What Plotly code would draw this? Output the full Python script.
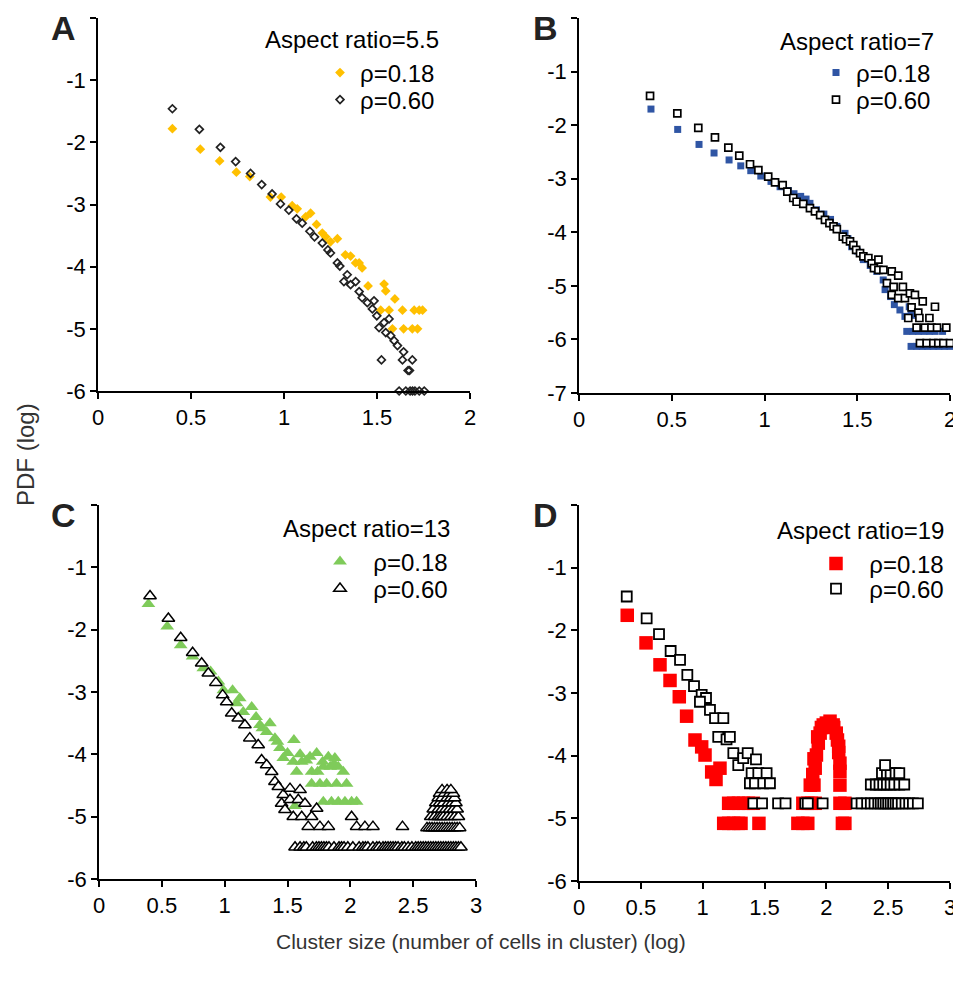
import plotly.graph_objects as go

# The page body adds an 8px margin, so the figure is drawn 8px in from the window corner.
OFF = 8
W, H = 961 - OFF, 986 - OFF

# ---------------- Panel A (aspect ratio 5.5) ----------------
a_r018_x = [0.40, 0.55, 0.654, 0.744, 0.816, 0.927, 0.985, 1.044, 1.071, 1.116, 1.143, 1.175, 1.206, 1.224,
            1.25, 1.287, 1.33, 1.358, 1.385, 1.404, 1.42, 1.452, 1.538, 1.547, 1.596, 1.52, 1.565, 1.637,
            1.70, 1.727, 1.745, 1.583, 1.643, 1.69, 1.718]
a_r018_y = [-1.78, -2.11, -2.30, -2.48, -2.55, -2.88, -2.88, -3.02, -3.07, -3.20, -3.14, -3.32, -3.46, -3.52,
            -3.60, -3.55, -3.81, -3.83, -3.94, -3.94, -4.02, -4.31, -4.28, -4.39, -4.52, -4.70, -4.70, -4.70,
            -4.70, -4.70, -4.70, -5.0, -5.0, -5.0, -5.0]
a_r060_x = [0.40, 0.545, 0.658, 0.74, 0.82, 0.88, 0.936, 0.981, 1.026, 1.067, 1.098, 1.139, 1.164, 1.206,
            1.236, 1.25, 1.287, 1.30, 1.34, 1.322, 1.358, 1.385, 1.404, 1.42, 1.448, 1.484, 1.475, 1.499,
            1.511, 1.538, 1.565, 1.547, 1.574, 1.592, 1.61, 1.643, 1.637, 1.69, 1.524, 1.667, 1.675,
            1.619, 1.655, 1.678, 1.691, 1.704, 1.727, 1.754]
a_r060_y = [-1.46, -1.79, -2.08, -2.31, -2.50, -2.68, -2.83, -2.99, -3.09, -3.23, -3.30, -3.43, -3.52, -3.62,
            -3.73, -3.78, -3.94, -3.99, -4.13, -4.24, -4.29, -4.24, -4.40, -4.50, -4.58, -4.55, -4.68, -4.79,
            -4.98, -4.90, -4.84, -5.06, -5.11, -5.19, -5.27, -5.37, -5.50, -5.50, -5.50, -5.67, -5.67,
            -6.0, -6.0, -6.0, -6.0, -6.0, -6.0, -6.0]

# ---------------- Panel B (aspect ratio 7) ----------------
b_r018_x = [0.388, 0.532, 0.647, 0.728, 0.809, 0.872, 0.926, 0.98, 1.035, 1.084, 1.128, 1.159, 1.195, 1.224,
            1.245, 1.28, 1.32, 1.356, 1.39, 1.434, 1.45, 1.47, 1.50, 1.533, 1.57, 1.605, 1.64, 1.65, 1.68,
            1.70, 1.73, 1.757, 1.78, 1.79, 1.81,
            1.767, 1.80, 1.83, 1.86, 1.89, 1.92, 1.96,
            1.79, 1.82, 1.85, 1.88, 1.91, 1.94, 1.97, 2.0]
b_r018_y = [-1.70, -2.08, -2.36, -2.52, -2.65, -2.76, -2.85, -2.95, -3.05, -3.15, -3.22, -3.28, -3.33, -3.38,
            -3.46, -3.58, -3.66, -3.76, -3.89, -4.02, -4.12, -4.27, -4.35, -4.51, -4.62, -4.73, -4.89, -5.07,
            -5.20, -5.35, -5.45, -5.57, -5.39, -5.50, -5.55,
            -5.85, -5.85, -5.85, -5.85, -5.85, -5.85, -5.85,
            -6.13, -6.13, -6.13, -6.13, -6.13, -6.13, -6.13, -6.13]
b_r060_x = [0.383, 0.53, 0.643, 0.733, 0.805, 0.864, 0.922, 0.967, 1.02, 1.057, 1.098, 1.123, 1.155, 1.173,
            1.209, 1.245, 1.272, 1.30, 1.326, 1.35, 1.372, 1.39, 1.422, 1.44, 1.461, 1.479, 1.494, 1.515,
            1.533, 1.56, 1.578, 1.59, 1.614, 1.614, 1.641, 1.686, 1.721, 1.66, 1.696, 1.746, 1.686, 1.721,
            1.757, 1.784, 1.811, 1.853, 1.793, 1.829, 1.919, 1.775, 1.835, 1.889,
            1.82, 1.865, 1.90, 1.93, 1.98, 1.838, 1.874, 1.91, 1.937, 1.964, 2.0]
b_r060_y = [-1.455, -1.78, -2.05, -2.23, -2.42, -2.57, -2.73, -2.84, -2.96, -3.07, -3.12, -3.24, -3.36, -3.43,
            -3.47, -3.55, -3.61, -3.68, -3.77, -3.83, -3.89, -3.94, -4.08, -4.13, -4.17, -4.24, -4.33, -4.39,
            -4.45, -4.48, -4.58, -4.67, -4.51, -4.70, -4.70, -4.73, -4.81, -4.95, -5.02, -5.02, -5.17, -5.23,
            -5.23, -5.14, -5.17, -5.29, -5.40, -5.50, -5.39, -5.60, -5.60, -5.60,
            -5.78, -5.78, -5.78, -5.78, -5.78, -6.07, -6.07, -6.07, -6.07, -6.07, -6.07]

# ---------------- Panel C (aspect ratio 13) ----------------
c_r018_x = [0.393, 0.543, 0.65, 0.745, 0.83, 0.888, 0.95, 0.99, 1.063, 1.095, 1.148, 1.215, 1.28, 1.36,
            1.334, 1.40, 1.551, 1.44, 1.466, 1.546, 1.613, 1.679, 1.732, 1.825, 1.877, 1.944, 1.785, 1.84,
            1.904, 1.573, 1.692, 1.74, 1.692, 1.758, 1.811, 1.89, 1.97, 1.785, 1.85, 1.904, 1.957, 2.01,
            2.05, 1.56, 1.12, 1.25, 1.30, 1.42, 1.50, 1.60, 1.65, 1.78, 1.87]
c_r018_y = [-1.59, -1.95, -2.25, -2.43, -2.62, -2.67, -2.83, -2.97, -2.97, -3.18, -3.32, -3.24, -3.53, -3.50,
            -3.64, -3.74, -3.77, -3.90, -4.06, -4.12, -4.12, -4.04, -3.98, -4.04, -4.06, -4.28, -4.20, -4.20,
            -4.20, -4.28, -4.28, -4.28, -4.47, -4.47, -4.47, -4.47, -4.47, -4.76, -4.76, -4.76, -4.76, -4.76,
            -4.76, -4.83, -3.10, -3.40, -3.58, -3.80, -3.98, -4.00, -4.10, -4.12, -4.15]
c_r060_x = [0.406, 0.552, 0.65, 0.745, 0.817, 0.87, 0.93, 0.984, 1.016, 1.056, 1.108, 1.161, 1.20, 1.267,
            1.294, 1.334, 1.374, 1.40, 1.427, 1.466, 1.52, 1.60, 1.453, 1.52, 1.586, 1.639, 1.48, 1.546,
            1.613, 1.732, 1.692, 1.665, 1.758, 1.825, 2.01, 2.05, 2.116, 2.18, 2.415]
c_r060_y = [-1.46, -1.82, -2.13, -2.37, -2.54, -2.70, -2.85, -3.05, -3.16, -3.34, -3.42, -3.53, -3.74, -3.85,
            -4.09, -4.17, -4.28, -4.44, -4.52, -4.65, -4.55, -4.57, -4.79, -4.73, -4.73, -4.79, -4.89, -5.0,
            -5.0, -4.87, -5.0, -5.16, -5.16, -5.16, -5.0, -5.16, -5.16, -5.16, -5.16]
c_r060_floor_x = [1.56, 1.60, 1.63, 1.65, 1.70, 1.73, 1.75, 1.77, 1.79, 1.81, 1.83, 1.87, 1.91, 1.93, 1.95,
                  1.98, 2.02, 2.07, 2.10, 2.12, 2.14, 2.18, 2.21, 2.23, 2.26, 2.28, 2.30, 2.32, 2.34, 2.36,
                  2.38, 2.41, 2.43, 2.46, 2.49, 2.52, 2.54, 2.56, 2.58, 2.60, 2.62, 2.64, 2.66, 2.68, 2.70,
                  2.72, 2.74, 2.76, 2.78, 2.80, 2.82, 2.84, 2.86, 2.88]
c_r060_floor_y = [-5.49, -5.49, -5.49, -5.49, -5.49, -5.49, -5.49, -5.49, -5.49, -5.49, -5.49, -5.49, -5.49,
                  -5.49, -5.49, -5.49, -5.49, -5.49, -5.49, -5.49, -5.49, -5.49, -5.49, -5.49, -5.49, -5.49,
                  -5.49, -5.49, -5.49, -5.49, -5.49, -5.49, -5.49, -5.49, -5.49, -5.49, -5.49, -5.49, -5.49,
                  -5.49, -5.49, -5.49, -5.49, -5.49, -5.49, -5.49, -5.49, -5.49, -5.49, -5.49, -5.49, -5.49,
                  -5.49, -5.49]
c_r060_peak_x = [2.61, 2.63, 2.65, 2.67, 2.69, 2.71, 2.73, 2.75, 2.77, 2.79, 2.81, 2.83, 2.85, 2.87,
                 2.64, 2.67, 2.70, 2.72, 2.74, 2.77, 2.80, 2.83, 2.86,
                 2.66, 2.70, 2.73, 2.76, 2.79, 2.82, 2.85,
                 2.68, 2.71, 2.74, 2.78, 2.81, 2.84,
                 2.70, 2.73, 2.77, 2.80, 2.83,
                 2.71, 2.75, 2.79, 2.82,
                 2.73, 2.77, 2.80]
c_r060_peak_y = [-5.18, -5.18, -5.18, -5.18, -5.18, -5.18, -5.18, -5.18, -5.18, -5.18, -5.18, -5.18, -5.18, -5.18,
                 -5.0, -5.0, -5.0, -5.0, -5.0, -5.0, -5.0, -5.0, -5.0,
                 -4.88, -4.88, -4.88, -4.88, -4.88, -4.88, -4.88,
                 -4.78, -4.78, -4.78, -4.78, -4.78, -4.78,
                 -4.70, -4.70, -4.70, -4.70, -4.70,
                 -4.63, -4.63, -4.63, -4.63,
                 -4.57, -4.57, -4.57]

# ---------------- Panel D (aspect ratio 19) ----------------
d_r018_x = [0.39, 0.542, 0.655, 0.736, 0.811, 0.87, 0.938, 0.992, 1.019, 1.073, 1.14, 1.108,
            1.21, 1.25, 1.29, 1.33, 1.37, 1.41,
            1.17, 1.21, 1.25, 1.29, 1.31, 1.455,
            1.77, 1.81, 1.85, 2.13, 2.15,
            1.81, 1.85, 1.88, 1.91, 2.11, 2.15,
            1.87, 1.90, 2.11,
            1.89, 1.91, 1.90, 1.92, 1.935, 1.93, 1.95, 1.96, 1.975, 2.0, 2.03, 2.055, 2.06, 2.08,
            2.09, 2.10, 2.10, 2.11, 2.11]
d_r018_y = [-1.76, -2.20, -2.55, -2.80, -3.06, -3.37, -3.75, -3.86, -3.99, -4.26, -4.20, -4.38,
            -4.76, -4.76, -4.76, -4.76, -4.76, -4.76,
            -5.08, -5.08, -5.08, -5.08, -5.08, -5.08,
            -5.08, -5.08, -5.08, -5.08, -5.08,
            -4.76, -4.76, -4.76, -4.76, -4.76, -4.76,
            -4.47, -4.47, -4.47,
            -4.30, -4.20, -4.05, -3.99, -3.80, -3.70, -3.64, -3.55, -3.51, -3.48, -3.45, -3.51, -3.55, -3.64,
            -3.75, -3.85, -3.95, -4.12, -4.25]
d_r060_x = [0.386, 0.547, 0.647, 0.741, 0.817, 0.876, 0.93, 0.992, 1.027, 0.978, 1.059, 1.10, 1.167, 1.126,
            1.193, 1.22, 1.248, 1.288, 1.328, 1.364, 1.431, 1.396, 1.45, 1.517, 1.382, 1.423, 1.49, 1.544,
            1.41, 1.48, 1.61, 1.67, 1.83, 1.85, 1.97, 2.245, 2.285, 2.33, 2.36, 2.39, 2.42, 2.44, 2.46,
            2.48, 2.50, 2.52, 2.54, 2.56, 2.58, 2.61, 2.64, 2.67, 2.70, 2.74,
            2.36, 2.40, 2.43, 2.46, 2.49, 2.52, 2.55, 2.59, 2.63,
            2.45, 2.49, 2.52, 2.56, 2.59,
            2.475]
d_r060_y = [-1.46, -1.81, -2.06, -2.33, -2.47, -2.71, -2.89, -3.03, -3.08, -3.14, -3.27, -3.40, -3.40, -3.70,
            -3.74, -3.70, -3.96, -4.15, -4.04, -3.96, -4.06, -4.28, -4.28, -4.28, -4.44, -4.44, -4.44, -4.44,
            -4.76, -4.76, -4.76, -4.76, -4.76, -4.76, -4.76, -4.76, -4.76, -4.76, -4.76, -4.76, -4.76, -4.76,
            -4.76, -4.76, -4.76, -4.76, -4.76, -4.76, -4.76, -4.76, -4.76, -4.76, -4.76, -4.76,
            -4.46, -4.46, -4.46, -4.46, -4.46, -4.46, -4.46, -4.46, -4.46,
            -4.28, -4.28, -4.28, -4.28, -4.28,
            -4.15]

rho_labels = ["ρ=0.18", "ρ=0.60"]
aspect_titles = ["Aspect ratio=5.5", "Aspect ratio=7", "Aspect ratio=13", "Aspect ratio=19"]
panel_letters = ["A", "B", "C", "D"]
x_title = "Cluster size (number of cells in cluster) (log)"
y_title = "PDF (log)"

for xs, ys in [(a_r018_x, a_r018_y), (a_r060_x, a_r060_y), (b_r018_x, b_r018_y), (b_r060_x, b_r060_y),
               (c_r018_x, c_r018_y), (c_r060_x, c_r060_y), (c_r060_floor_x, c_r060_floor_y),
               (c_r060_peak_x, c_r060_peak_y), (d_r018_x, d_r018_y), (d_r060_x, d_r060_y)]:
    assert len(xs) == len(ys), (len(xs), len(ys))

FONT = "Arial, Liberation Sans, sans-serif"
YELLOW = "#FFC000"
BLUE = "#2F55A4"
GREEN = "#7FCB5A"
RED = "#FF0000"


def px(x):
    """screen pixel -> paper fraction (x)"""
    return (x - OFF) / W


def py(y):
    """screen pixel -> paper fraction (y)"""
    return 1 - (y - OFF) / H


fig = go.Figure()


def add(xs, ys, xa, ya, name, legend, marker):
    fig.add_trace(go.Scatter(x=xs, y=ys, mode="markers", xaxis=xa, yaxis=ya, name=name,
                             legend=legend, showlegend=True, marker=marker, cliponaxis=False))


nb = "\u00a0\u00a0"
# Panel A
add(a_r018_x, a_r018_y, "x", "y", rho_labels[0], "legend",
    dict(symbol="diamond", size=7.5, color=YELLOW, line=dict(width=0)))
add(a_r060_x, a_r060_y, "x", "y", rho_labels[1], "legend2",
    dict(symbol="diamond-open", size=6, color="#222222", line=dict(width=1.7)))
# Panel B
add(b_r018_x, b_r018_y, "x2", "y2", rho_labels[0], "legend3",
    dict(symbol="square", size=7, color=BLUE, line=dict(width=0)))
add(b_r060_x, b_r060_y, "x2", "y2", rho_labels[1], "legend4",
    dict(symbol="square", size=7, color="white", line=dict(width=1.7, color="black")))
# Panel C
add(c_r018_x, c_r018_y, "x3", "y3", nb + rho_labels[0], "legend5",
    dict(symbol="triangle-up", size=12, color=GREEN, line=dict(width=0)))
add(c_r060_x + c_r060_floor_x + c_r060_peak_x, c_r060_y + c_r060_floor_y + c_r060_peak_y, "x3", "y3",
    nb + rho_labels[1], "legend6",
    dict(symbol="triangle-up", size=11, color="white", line=dict(width=1.5, color="black")))
# Panel D
add(d_r018_x, d_r018_y, "x4", "y4", nb + rho_labels[0], "legend7",
    dict(symbol="square", size=13.5, color=RED, line=dict(width=0)))
add(d_r060_x, d_r060_y, "x4", "y4", nb + rho_labels[1], "legend8",
    dict(symbol="square", size=10, color="white", line=dict(width=1.8, color="black")))

# plot-area positions in screen pixels (left, right), (top, bottom)
doms = {
    "A": ((98, 470), (18, 391)),
    "B": ((579, 950), (18, 393)),
    "C": ((99, 476), (505, 879)),
    "D": ((579, 950), (505, 881)),
}
xranges = [[0, 2], [0, 2], [0, 3], [0, 3]]
yranges = [[-6, 0], [-7, 0], [-6, 0], [-6, 0]]
xticks = [[0, 0.5, 1, 1.5, 2], [0, 0.5, 1, 1.5, 2], [0, 0.5, 1, 1.5, 2, 2.5, 3], [0, 0.5, 1, 1.5, 2, 2.5, 3]]
yticks = [[0, -1, -2, -3, -4, -5, -6], [0, -1, -2, -3, -4, -5, -6, -7],
          [0, -1, -2, -3, -4, -5, -6], [0, -1, -2, -3, -4, -5, -6]]


def fmt(v):
    return "%g" % v


axis_common = dict(showline=True, linecolor="black", linewidth=1.5, ticks="outside", ticklen=6,
                   tickwidth=1.5, tickcolor="black", showgrid=False, zeroline=False,
                   tickfont=dict(family=FONT, size=22, color="black"))

layout = dict(width=W, height=H, margin=dict(l=0, r=0, t=0, b=0, autoexpand=False), plot_bgcolor="white",
              paper_bgcolor="white", font=dict(family=FONT, color="black"))
for i, key in enumerate("ABCD"):
    (x0, x1), (y0, y1) = doms[key]
    sfx = "" if i == 0 else str(i + 1)
    layout["xaxis" + sfx] = dict(domain=[px(x0), px(x1)], range=xranges[i], anchor="y" + sfx,
                                 tickvals=xticks[i], ticktext=[fmt(v) for v in xticks[i]], **axis_common)
    layout["yaxis" + sfx] = dict(domain=[py(y1), py(y0)], range=yranges[i], anchor="x" + sfx,
                                 tickvals=yticks[i],
                                 ticktext=["" if v == 0 else fmt(v) for v in yticks[i]], **axis_common)

# legend marker centre (screen px) for each legend entry
legend_pos = {"legend": (341, 73), "legend2": (341, 100), "legend3": (837, 73), "legend4": (837, 100),
              "legend5": (341, 562), "legend6": (341, 589), "legend7": (837, 564), "legend8": (837, 589)}
for lk, (lx, ly) in legend_pos.items():
    layout[lk] = dict(x=px(lx - 21), y=py(ly), xanchor="left", yanchor="middle",
                      bgcolor="rgba(0,0,0,0)",
                      font=dict(family=FONT, size=24, color="black"), itemsizing="trace")

fig.update_layout(**layout)

ann = []
title_pos = [(441, 40), (936, 42), (452, 528), (946, 530)]
for t, (tx, ty) in zip(aspect_titles, title_pos):
    ann.append(dict(text=t, x=px(tx), y=py(ty), xref="paper", yref="paper", xanchor="right",
                    yanchor="middle", showarrow=False, font=dict(family=FONT, size=24, color="black")))
# panel letters: top edge of the text box (screen px)
letter_pos = [(63, 8.5), (545, 8.5), (63, 495), (545, 495)]
for t, (tx, ty) in zip(panel_letters, letter_pos):
    ann.append(dict(text="<b>" + t + "</b>", x=px(tx), y=py(ty), xref="paper", yref="paper",
                    xanchor="center", yanchor="top", showarrow=False, borderpad=0,
                    font=dict(family=FONT, size=34, color="#222222")))
ann.append(dict(text=x_title, x=px(481), y=py(941), xref="paper", yref="paper", xanchor="center",
                yanchor="middle", showarrow=False, font=dict(family=FONT, size=21, color="#333333")))
ann.append(dict(text=y_title, x=px(25), y=py(455), xref="paper", yref="paper", xanchor="center",
                yanchor="middle", showarrow=False, textangle=-90,
                font=dict(family=FONT, size=24, color="#333333")))
fig.update_layout(annotations=ann)

fig.write_html("out.html")
